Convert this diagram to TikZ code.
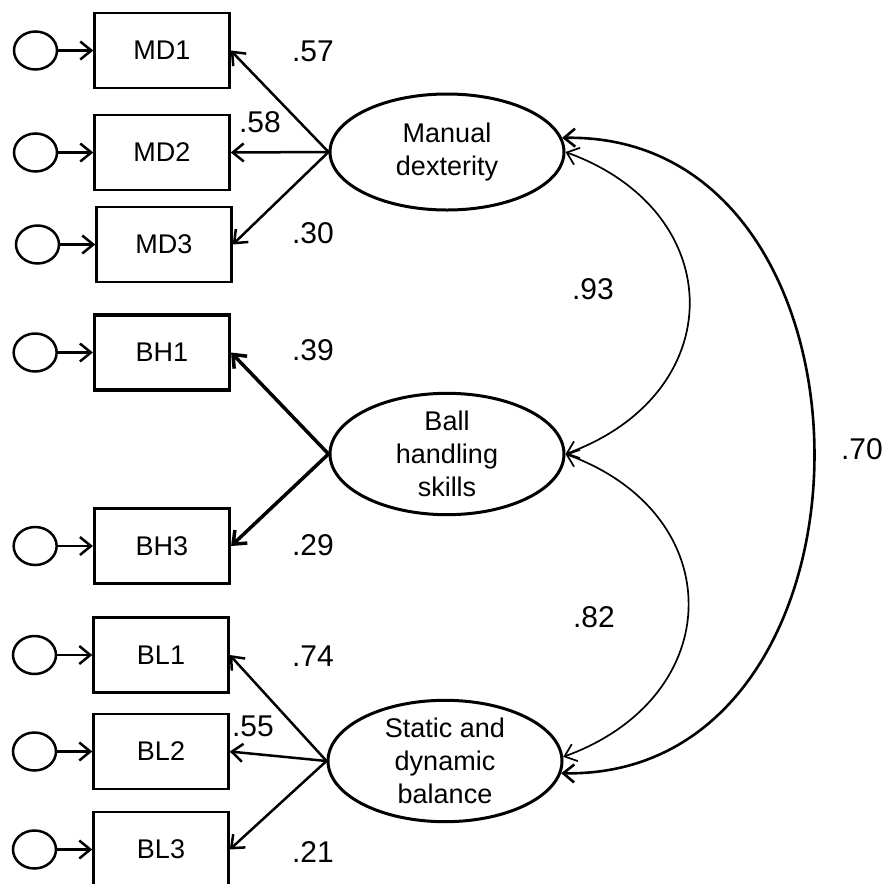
\documentclass[tikz,border=0pt]{standalone}
\usepackage{fontspec}
\setmainfont{Liberation Sans}
\usetikzlibrary{positioning,arrows.meta,shapes.geometric}

\begin{document}
\begin{tikzpicture}[
  x=1pt, y=-1pt,
  node distance=35pt,
  box/.style={rectangle, draw, line width=2.5pt, minimum width=135pt, minimum height=75pt, inner sep=0pt, font=\fontsize{27}{32}\selectfont},
  err/.style={ellipse, draw, line width=2.5pt, minimum width=43pt, minimum height=38pt, inner sep=0pt},
  latent/.style={ellipse, draw, line width=3pt, minimum width=234pt, minimum height=116pt, inner sep=0pt, align=center, font=\fontsize{27}{33}\selectfont},
  arrow/.style={-{Straight Barb[length=11pt,width=18pt]}, line width=2.5pt},
  cov/.style={{Straight Barb[length=11pt,width=18pt]}-{Straight Barb[length=11pt,width=18pt]}, line width=1.7pt},
  lbl/.style={font=\fontsize{30}{36}\selectfont}
]
\useasboundingbox (0,0) rectangle (883,884);

% Indicators
\node[box] (md1) at (162,50.5)  {MD1};
\node[box] (md2) at (162,152.5) {MD2};
\node[box] (md3) at (164,244.5) {MD3};
\node[box, line width=3.2pt] (bh1) at (162,352.5) {BH1};
\node[box, line width=3.2pt] (bh3) at (162,546)   {BH3};
\node[box] (bl1) at (161,655)   {BL1};
\node[box] (bl2) at (161,751.5) {BL2};
\node[box] (bl3) at (161,849.5) {BL3};

% Error terms
\foreach \v in {md1,md2,md3,bh1,bh3,bl1,bl2,bl3} {
  \node[err, left=35pt of \v] (e\v) {};
  \draw[arrow] (e\v) -- (\v);
}

% Latent factors
\node[latent] (mdl) at (447,152) {Manual\\dexterity};
\node[latent] (bhl) at (447,454) {Ball\\handling\\skills};
\node[latent] (bll) at (445,761) {Static and\\dynamic\\balance};

% Loadings
\draw[arrow] (mdl.west) -- (md1.east);
\draw[arrow] (mdl.west) -- (md2.east);
\draw[arrow] (mdl.west) -- (md3.east);
\draw[arrow, line width=3.5pt] (bhl.west) -- (bh1.east);
\draw[arrow, line width=3.5pt] (bhl.west) -- (bh3.east);
\draw[arrow] (bll.west) -- (bl1.east);
\draw[arrow] (bll.west) -- (bl2.east);
\draw[arrow] (bll.west) -- (bl3.east);

\node[lbl] (l57) at (313,51)  {.57};
\node[lbl] (l58) at (260,122) {.58};
\node[lbl] (l30) at (313,233) {.30};
\node[lbl] (l39) at (313,350) {.39};
\node[lbl] (l29) at (313,545) {.29};
\node[lbl] (l74) at (313,656) {.74};
\node[lbl] (l55) at (253,726) {.55};
\node[lbl] (l21) at (313,852) {.21};

% Correlations
\draw[cov] (mdl.east) .. controls +(165,60) and +(165,-60) .. (bhl.east);
\draw[cov] (bhl.east) .. controls +(165,60) and +(165,-60) .. (bll.2);
\draw[cov, line width=2.6pt] (mdl.7) .. controls +(336,-6) and +(336,6) .. (bll.-6);

\node[lbl] (l93) at (593,289) {.93};
\node[lbl] (l82) at (594,617) {.82};
\node[lbl] (l70) at (862,449) {.70};

\end{tikzpicture}
\end{document}
